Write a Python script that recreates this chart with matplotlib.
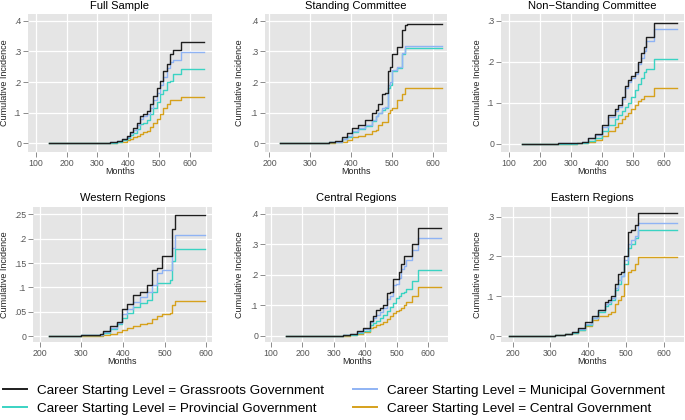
import numpy as np
import matplotlib
matplotlib.use("Agg")
import matplotlib.pyplot as plt
from matplotlib.lines import Line2D

plt.rcParams['font.family'] = ['Liberation Sans', 'DejaVu Sans']

# series / colours
series_labels = ['Career Starting Level = Grassroots Government',
                 'Career Starting Level = Municipal Government',
                 'Career Starting Level = Provincial Government',
                 'Career Starting Level = Central Government']
series_colors = ['#1e1e1e', '#8fb3f4', '#3ad3c3', '#d6a11c']

# Full Sample
full_months = [144, 300, 341, 362, 380, 395, 405, 416, 427, 438, 448, 459, 470, 481, 492, 503, 513, 524, 535, 546, 571, 646]
full_grass = [0, 0.001, 0.003, 0.008, 0.015, 0.025, 0.038, 0.05, 0.068, 0.088, 0.095, 0.105, 0.13, 0.155, 0.18, 0.205, 0.235, 0.26, 0.29, 0.305, 0.33, 0.33]
full_muni = [0, 0.001, 0.003, 0.007, 0.013, 0.022, 0.033, 0.045, 0.06, 0.078, 0.088, 0.095, 0.115, 0.14, 0.165, 0.19, 0.215, 0.245, 0.265, 0.273, 0.297, 0.297]
full_prov = [0, 0.001, 0.002, 0.005, 0.01, 0.018, 0.027, 0.035, 0.048, 0.062, 0.068, 0.075, 0.095, 0.115, 0.135, 0.16, 0.175, 0.2, 0.205, 0.225, 0.243, 0.243]
full_cent = [0, 0.0, 0.001, 0.003, 0.006, 0.01, 0.015, 0.02, 0.025, 0.03, 0.037, 0.042, 0.055, 0.068, 0.08, 0.095, 0.115, 0.128, 0.14, 0.14, 0.152, 0.152]

# Standing Committee
stand_months = [226, 320, 345, 361, 377, 390, 402, 418, 435, 451, 461, 467, 476, 484, 490, 495, 500, 512, 525, 533, 537, 623]
stand_grass = [0, 0.002, 0.004, 0.008, 0.02, 0.035, 0.05, 0.06, 0.075, 0.10, 0.11, 0.13, 0.16, 0.165, 0.235, 0.25, 0.29, 0.315, 0.37, 0.385, 0.39, 0.39]
stand_muni = [0, 0.001, 0.003, 0.006, 0.015, 0.025, 0.04, 0.05, 0.06, 0.075, 0.09, 0.10, 0.115, 0.12, 0.19, 0.2, 0.24, 0.25, 0.295, 0.318, 0.318, 0.318]
stand_prov = [0, 0.001, 0.003, 0.006, 0.013, 0.022, 0.037, 0.047, 0.058, 0.072, 0.088, 0.098, 0.11, 0.115, 0.18, 0.19, 0.235, 0.245, 0.29, 0.31, 0.31, 0.31]
stand_cent = [0, 0.0, 0.001, 0.003, 0.006, 0.012, 0.02, 0.025, 0.032, 0.04, 0.045, 0.06, 0.07, 0.07, 0.10, 0.11, 0.115, 0.14, 0.16, 0.182, 0.182, 0.182]

# Non-Standing Committee
nons_months = [143, 260, 320, 335, 356, 378, 399, 420, 441, 452, 463, 474, 484, 495, 506, 516, 527, 535, 542, 566, 640]
nons_grass = [0, 0.001, 0.003, 0.005, 0.015, 0.025, 0.045, 0.07, 0.085, 0.095, 0.115, 0.14, 0.155, 0.165, 0.175, 0.20, 0.22, 0.235, 0.26, 0.293, 0.293]
nons_muni = [0, 0.001, 0.003, 0.005, 0.014, 0.022, 0.042, 0.065, 0.08, 0.09, 0.11, 0.135, 0.15, 0.16, 0.17, 0.195, 0.21, 0.225, 0.25, 0.28, 0.28]
nons_prov = [0, 0.0, 0.002, 0.003, 0.008, 0.015, 0.03, 0.045, 0.06, 0.07, 0.08, 0.09, 0.10, 0.115, 0.13, 0.145, 0.16, 0.175, 0.183, 0.207, 0.207]
nons_cent = [0, 0.0, 0.001, 0.002, 0.005, 0.01, 0.02, 0.03, 0.04, 0.05, 0.06, 0.068, 0.075, 0.085, 0.095, 0.105, 0.11, 0.117, 0.117, 0.135, 0.135]

# Western Regions
west_months = [223, 300, 345, 353, 369, 385, 397, 409, 425, 441, 457, 469, 481, 494, 514, 518, 526, 597]
west_grass = [0.001, 0.002, 0.004, 0.01, 0.02, 0.03, 0.055, 0.065, 0.085, 0.09, 0.105, 0.135, 0.14, 0.165, 0.165, 0.22, 0.249, 0.249]
west_muni = [0.001, 0.002, 0.003, 0.008, 0.017, 0.028, 0.045, 0.055, 0.07, 0.08, 0.09, 0.105, 0.13, 0.135, 0.135, 0.18, 0.208, 0.208]
west_prov = [0.001, 0.002, 0.003, 0.007, 0.015, 0.025, 0.038, 0.048, 0.06, 0.068, 0.075, 0.09, 0.11, 0.11, 0.115, 0.155, 0.178, 0.178]
west_cent = [0, 0, 0.001, 0.002, 0.004, 0.008, 0.013, 0.016, 0.02, 0.024, 0.028, 0.035, 0.042, 0.045, 0.048, 0.063, 0.072, 0.072]

# Central Regions
cent_months = [147, 280, 330, 351, 372, 393, 414, 425, 435, 446, 457, 468, 478, 489, 499, 507, 515, 523, 531, 547, 566, 642]
cent_grass = [0, 0.001, 0.003, 0.006, 0.015, 0.025, 0.05, 0.065, 0.085, 0.09, 0.10, 0.14, 0.145, 0.185, 0.185, 0.21, 0.235, 0.26, 0.26, 0.30, 0.353, 0.353]
cent_muni = [0, 0.001, 0.003, 0.005, 0.013, 0.022, 0.045, 0.058, 0.07, 0.078, 0.09, 0.12, 0.13, 0.165, 0.17, 0.19, 0.22, 0.23, 0.25, 0.28, 0.32, 0.32]
cent_prov = [0, 0.001, 0.002, 0.003, 0.008, 0.015, 0.035, 0.042, 0.05, 0.058, 0.07, 0.08, 0.095, 0.108, 0.125, 0.13, 0.14, 0.145, 0.155, 0.18, 0.215, 0.215]
cent_cent = [0, 0.0, 0.001, 0.002, 0.005, 0.012, 0.025, 0.03, 0.035, 0.04, 0.045, 0.055, 0.065, 0.075, 0.08, 0.085, 0.09, 0.10, 0.11, 0.13, 0.16, 0.16]

# Eastern Regions
east_months = [189, 260, 312, 339, 356, 374, 391, 409, 426, 444, 452, 461, 470, 479, 488, 496, 505, 514, 523, 532, 635]
east_grass = [0, 0.001, 0.003, 0.005, 0.01, 0.02, 0.035, 0.05, 0.065, 0.085, 0.09, 0.10, 0.13, 0.155, 0.16, 0.20, 0.26, 0.265, 0.28, 0.308, 0.308]
east_muni = [0, 0.001, 0.003, 0.005, 0.009, 0.018, 0.03, 0.045, 0.065, 0.08, 0.085, 0.095, 0.12, 0.14, 0.15, 0.19, 0.23, 0.24, 0.25, 0.283, 0.283]
east_prov = [0, 0.001, 0.002, 0.004, 0.008, 0.016, 0.028, 0.045, 0.06, 0.075, 0.08, 0.09, 0.115, 0.13, 0.15, 0.18, 0.22, 0.23, 0.245, 0.267, 0.267]
east_cent = [0, 0.0, 0.002, 0.004, 0.008, 0.015, 0.025, 0.04, 0.05, 0.05, 0.055, 0.06, 0.08, 0.09, 0.10, 0.13, 0.16, 0.165, 0.18, 0.198, 0.198]

# panel settings: title, months, series, x ticks, y ticks, x lim, y lim, box (px: left, right, top, bottom), ylabel x
panels = [
    ('Full Sample', full_months, [full_grass, full_muni, full_prov, full_cent],
     [100, 200, 300, 400, 500, 600], [0, .1, .2, .3, .4], (75, 671), (-0.028, 0.422), (28, 212, 14, 152), 4.5),
    ('Standing Committee', stand_months, [stand_grass, stand_muni, stand_prov, stand_cent],
     [200, 300, 400, 500, 600], [0, .1, .2, .3, .4], (189, 635), (-0.028, 0.422), (265, 447, 14, 152), 240),
    ('Non\u2212Standing Committee', nons_months, [nons_grass, nons_muni, nons_prov, nons_cent],
     [100, 200, 300, 400, 500, 600], [0, .1, .2, .3], (75, 664), (-0.02, 0.316), (501, 684, 14, 152), 477),
    ('Western Regions', west_months, [west_grass, west_muni, west_prov, west_cent],
     [200, 300, 400, 500, 600], [0, .05, .1, .15, .2, .25], (184, 614), (-0.012, 0.265), (33, 212, 207, 342), 4.5),
    ('Central Regions', cent_months, [cent_grass, cent_muni, cent_prov, cent_cent],
     [100, 200, 300, 400, 500, 600], [0, .1, .2, .3, .4], (81, 663), (-0.02, 0.422), (265, 448, 207, 342), 240),
    ('Eastern Regions', east_months, [east_grass, east_muni, east_prov, east_cent],
     [200, 300, 400, 500, 600], [0, .1, .2, .3], (169, 654), (-0.015, 0.324), (501, 684, 207, 342), 477),
]

W, H = 685, 420
fig = plt.figure(figsize=(W / 100, H / 100), dpi=100)


def stata_fmt(v):
    if v == 0:
        return '0'
    return ('%g' % v).lstrip('0')


for title, months, curves, xt, yt, xl, yl, box, ylab_x in panels:
    l, r, t, b = box
    ax = fig.add_axes([l / W, 1 - b / H, (r - l) / W, (b - t) / H])
    ax.set_facecolor('#e5e5e5')
    for s in ax.spines.values():
        s.set_visible(False)
    ax.grid(True, color='white', linewidth=0.9)
    ax.set_axisbelow(True)
    for vals, col in zip(curves[::-1], series_colors[::-1]):
        ax.step(months, vals, where='post', color=col, linewidth=1.0)
    ax.set_xlim(*xl)
    ax.set_ylim(*yl)
    ax.set_xticks(xt)
    ax.set_yticks(yt)
    ax.set_yticklabels([stata_fmt(v) for v in yt])
    ax.tick_params(axis='both', colors='#7a7a7a', labelcolor='#555555', labelsize=6.3,
                   length=3.5, width=0.6, pad=1.5)
    # texts around the panel
    base_y = max(t - 6.3, 8.8)
    fig.text((l + r) / 2 / W, 1 - base_y / H, title, ha='center', va='baseline', fontsize=8)
    fig.text(ylab_x / W, 1 - (t + b) / 2 / H, 'Cumulative Incidence', rotation=90,
             ha='center', va='center', fontsize=6.5, color='#222222')
    fig.text((l + r) / 2 / W, 1 - (b + 19.5) / H, 'Months', ha='center', va='center',
             fontsize=6.4, color='#222222')

handles = [Line2D([], [], color=c, linewidth=1.4) for c in series_colors]
order = [0, 2, 1, 3]
fig.legend([handles[i] for i in order], [series_labels[i] for i in order],
           loc='upper left', bbox_to_anchor=(0.0, 1 - 382 / H), ncol=2, frameon=False,
           fontsize=9.7, handlelength=1.78, handletextpad=0.74, columnspacing=2.15,
           labelspacing=0.42, borderpad=0.2, borderaxespad=0)

fig.savefig('out.png', dpi=100)
